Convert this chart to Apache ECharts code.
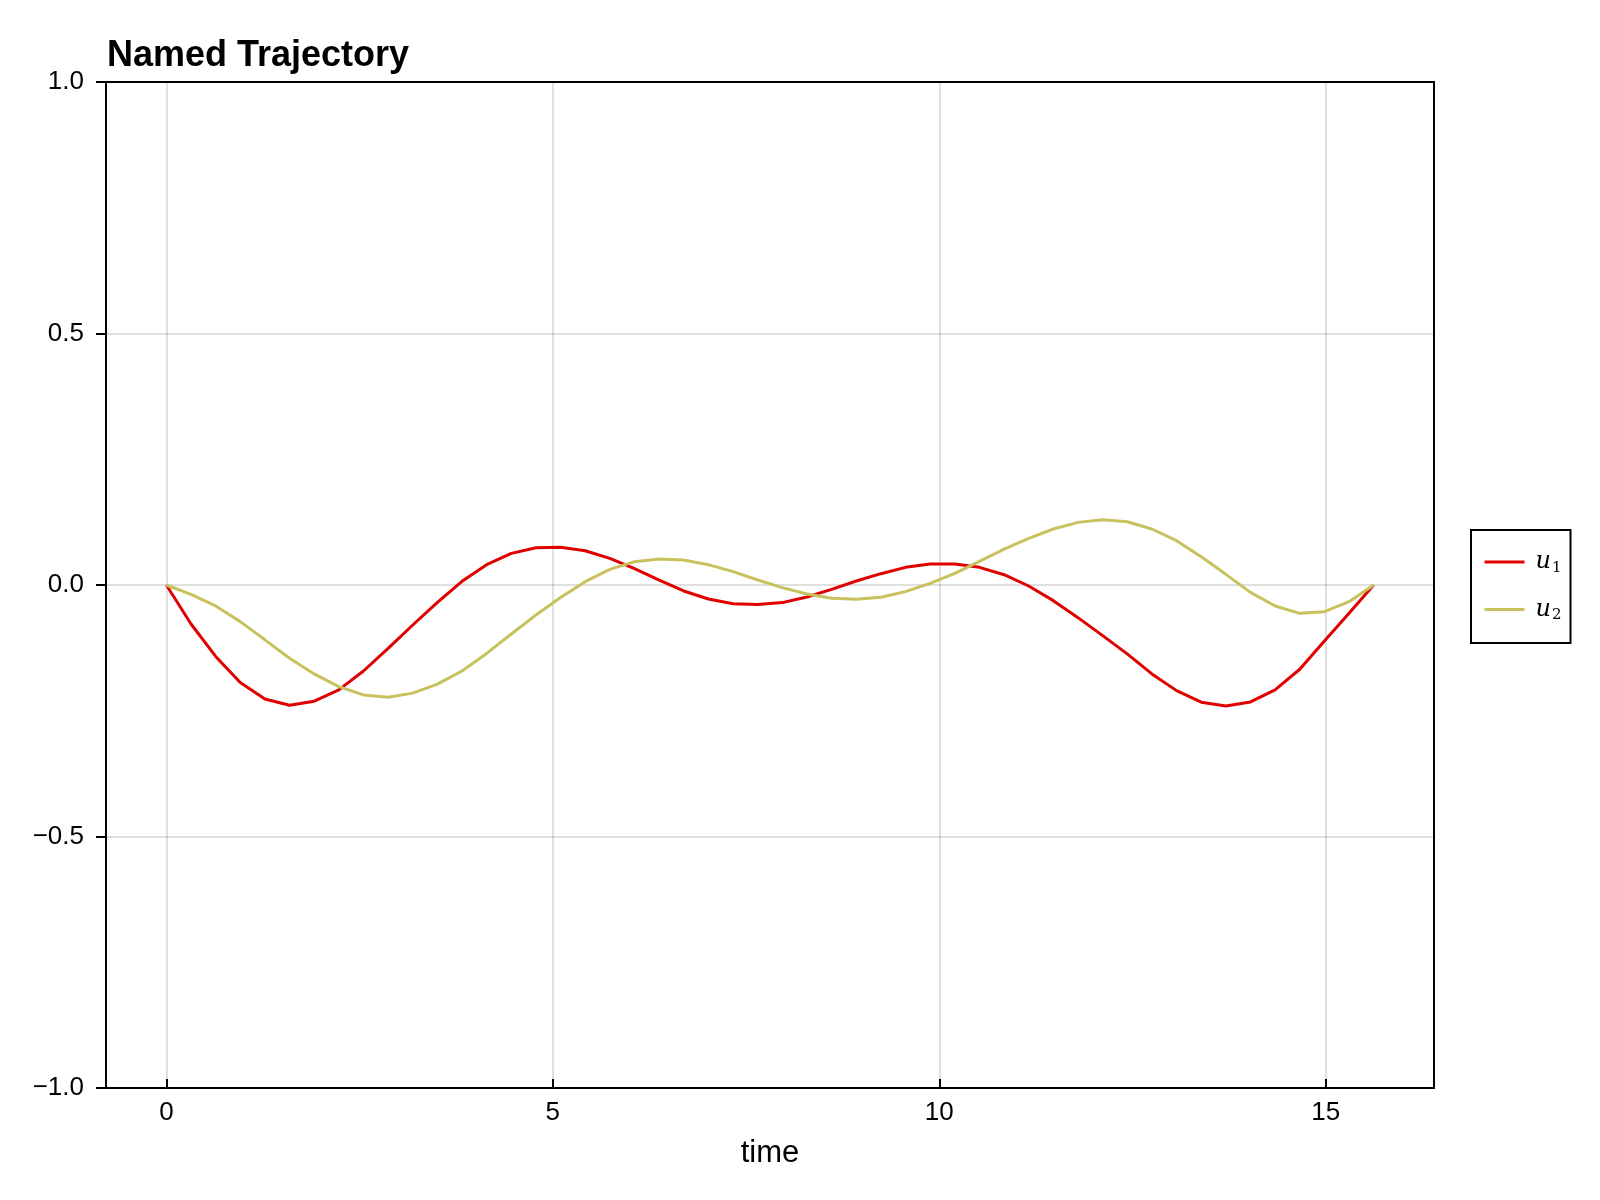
<!DOCTYPE html>
<html>
<head>
<meta charset="utf-8">
<script src="https://cdn.jsdelivr.net/npm/echarts@6/dist/echarts.min.js"></script>
<style>html,body{margin:0;padding:0;background:#fff}#chart{width:1600px;height:1200px}</style>
</head>
<body>
<div id="chart"></div>
<script>
const time = [0, 0.319, 0.638, 0.956, 1.275, 1.594, 1.913, 2.231, 2.550, 2.869,
  3.188, 3.507, 3.825, 4.144, 4.463, 4.782, 5.100, 5.419, 5.738, 6.057,
  6.376, 6.694, 7.013, 7.332, 7.651, 7.969, 8.288, 8.607, 8.926, 9.245,
  9.563, 9.882, 10.201, 10.520, 10.839, 11.157, 11.476, 11.795, 12.114, 12.432,
  12.751, 13.070, 13.389, 13.708, 14.026, 14.345, 14.664, 14.983, 15.302, 15.620];
const u1 = [0, -0.0775, -0.142, -0.194, -0.2265, -0.239, -0.231, -0.2086, -0.171, -0.126,
  -0.0795, -0.0344, 0.0073, 0.0404, 0.0629, 0.0742, 0.0752, 0.0682, 0.053, 0.0325,
  0.0099, -0.0119, -0.0278, -0.0371, -0.039, -0.035, -0.0238, -0.0086, 0.0079, 0.0225,
  0.0351, 0.0417, 0.0417, 0.0351, 0.0205, -0.002, -0.0311, -0.0649, -0.1007, -0.137,
  -0.1768, -0.21, -0.233, -0.2404, -0.2325, -0.2086, -0.1675, -0.1113, -0.0563, 0];
const u2 = [0, -0.0185, -0.0417, -0.0728, -0.109, -0.1457, -0.1768, -0.202, -0.2185, -0.2232,
  -0.215, -0.197, -0.171, -0.136, -0.0974, -0.0596, -0.025, 0.0066, 0.0311, 0.0464,
  0.0517, 0.0497, 0.0404, 0.0265, 0.0099, -0.0053, -0.0179, -0.0265, -0.0285, -0.0245,
  -0.0132, 0.0033, 0.0232, 0.047, 0.0715, 0.0927, 0.1113, 0.1245, 0.1298, 0.1258,
  0.1113, 0.0881, 0.0563, 0.0212, -0.0146, -0.0417, -0.0563, -0.053, -0.0331, 0];
const xTicks = [0, 5, 10, 15];
const seriesNames = ['u1', 'u2'];
const seriesColors = ['#e10000', '#c7c25e'];
const titleText = 'Named Trajectory';
const xName = 'time';

const font = '"Liberation Sans", Arial, Helvetica, sans-serif';
const chart = echarts.init(document.getElementById('chart'), null, {renderer: 'canvas'});
const gridC = 'rgba(0,0,0,0.12)';
const pair = (xs, ys) => xs.map((x, i) => [x, ys[i]]);
const fmtY = v => (v < 0 ? '\u2212' : '') + Math.abs(v).toFixed(1);

chart.setOption({
  animation: false,
  backgroundColor: '#ffffff',
  title: {
    text: titleText, left: 107, top: 38, padding: 0,
    textStyle: {fontFamily: font, fontWeight: 'bold', fontSize: 36, color: '#000'}
  },
  grid: {
    left: 106, right: 166, top: 82, bottom: 112,
    show: true, borderColor: '#000', borderWidth: 2, backgroundColor: 'transparent'
  },
  legend: {
    orient: 'vertical', left: 1471, top: 530,
    padding: [20, 9, 20, 12], itemGap: 22, itemWidth: 40, itemHeight: 24,
    borderColor: '#000', borderWidth: 2, backgroundColor: '#fff',
    itemStyle: {opacity: 0},
    lineStyle: {width: 3},
    data: seriesNames,
    formatter: n => '{u|u}{s|' + n.slice(1) + '}',
    textStyle: {
      rich: {
        u: {fontFamily: '"DejaVu Serif", "Liberation Serif", serif', fontStyle: 'italic', fontSize: 24, color: '#000', padding: [0, 0, 0, 6]},
        s: {fontFamily: '"DejaVu Serif", "Liberation Serif", serif', fontSize: 15, color: '#000', padding: [12, 0, 0, 1]}
      }
    }
  },
  xAxis: {
    type: 'value', min: -0.781, max: 16.401,
    name: xName, nameLocation: 'middle', nameGap: 50,
    nameTextStyle: {fontFamily: font, fontSize: 31, color: '#000'},
    axisLine: {show: true, onZero: false, lineStyle: {color: '#000', width: 2}},
    axisTick: {show: true, inside: true, length: 9, customValues: xTicks, lineStyle: {color: '#000', width: 2}},
    axisLabel: {customValues: xTicks, margin: 12, fontFamily: font, fontSize: 26, color: '#000'},
    splitLine: {show: true, lineStyle: {color: gridC, width: 2}}
  },
  yAxis: {
    type: 'value', min: -1, max: 1, interval: 0.5,
    axisLine: {show: true, onZero: false, lineStyle: {color: '#000', width: 2}},
    axisTick: {show: true, inside: false, length: 10, lineStyle: {color: '#000', width: 2}},
    axisLabel: {margin: 22, fontFamily: font, fontSize: 26, color: '#000', formatter: fmtY},
    splitLine: {show: true, lineStyle: {color: gridC, width: 2}}
  },
  series: [
    {name: seriesNames[0], type: 'line', data: pair(time, u1), symbol: 'none', smooth: false,
     lineStyle: {color: seriesColors[0], width: 3}, itemStyle: {color: seriesColors[0]}},
    {name: seriesNames[1], type: 'line', data: pair(time, u2), symbol: 'none', smooth: false,
     lineStyle: {color: seriesColors[1], width: 3}, itemStyle: {color: seriesColors[1]}}
  ]
});
</script>
</body>
</html>
